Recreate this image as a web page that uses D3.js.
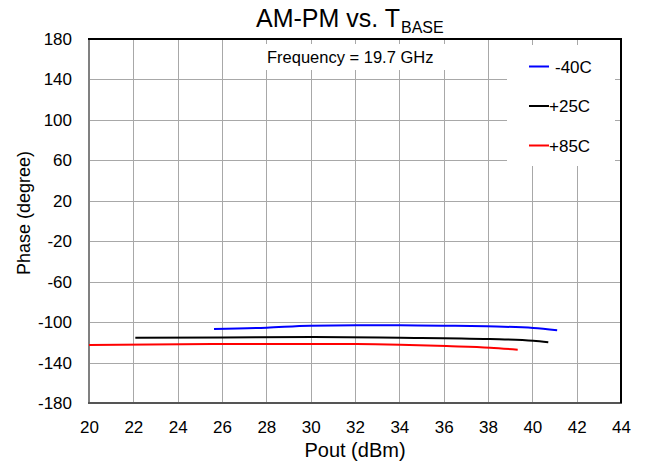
<!DOCTYPE html>
<html>
<head>
<meta charset="utf-8">
<script src="https://cdn.jsdelivr.net/npm/d3@7"></script>
<style>
  html, body { margin: 0; padding: 0; background: #fff; }
  svg { display: block; font-family: "Liberation Sans", Arial, sans-serif; }
</style>
</head>
<body>
<svg id="chart" width="647" height="465"></svg>
<script>
// ---- data ----
const xTicks = [20, 22, 24, 26, 28, 30, 32, 34, 36, 38, 40, 42, 44];
const yTicks = [-180, -140, -100, -60, -20, 20, 60, 100, 140, 180];

const seriesNames = ["-40C", "+25C", "+85C"];
const seriesColors = ["#0000ff", "#000000", "#ff0000"];

const poutM40 = [25.64, 28.01, 29.97, 32.07, 34.03, 35.98, 37.94, 40.04, 41.12];
const phaseM40 = [-106.8, -105.5, -103.5, -103.2, -103.2, -103.5, -104.2, -105.8, -108.1];

const poutP25 = [22.09, 26.06, 30.12, 34.03, 38.09, 40.04, 40.72];
const phaseP25 = [-115.4, -115.1, -114.7, -115.4, -116.7, -118.4, -120.0];

const poutP85 = [20.0, 26.06, 32.07, 34.03, 36.13, 38.09, 39.34];
const phaseP85 = [-122.7, -121.7, -121.7, -122.3, -123.7, -125.3, -127.3];

const series = [
  { name: seriesNames[0], color: seriesColors[0], x: poutM40, y: phaseM40 },
  { name: seriesNames[1], color: seriesColors[1], x: poutP25, y: phaseP25 },
  { name: seriesNames[2], color: seriesColors[2], x: poutP85, y: phaseP85 }
];

// ---- layout ----
const svg = d3.select("#chart");
const L = 89, R = 621, T = 39, B = 403;
const x = d3.scaleLinear().domain([20, 44]).range([L, R]);
const y = d3.scaleLinear().domain([-180, 180]).range([B, T]);

// gridlines
const grid = svg.append("g");
grid.selectAll("line.vx").data(xTicks).join("line")
  .attr("x1", d => Math.round(x(d)) + 0.5).attr("x2", d => Math.round(x(d)) + 0.5)
  .attr("y1", T).attr("y2", B)
  .attr("stroke", "#a8a8a8").attr("stroke-width", 1);
grid.selectAll("line.hy").data(yTicks).join("line")
  .attr("y1", d => Math.round(y(d)) + 0.5).attr("y2", d => Math.round(y(d)) + 0.5)
  .attr("x1", L).attr("x2", R)
  .attr("stroke", "#a8a8a8").attr("stroke-width", 1);

// white boxes behind annotation and legend
svg.append("rect").attr("x", 262).attr("y", 44).attr("width", 190).attr("height", 26).attr("fill", "#fff");
svg.append("rect").attr("x", 507).attr("y", 45).attr("width", 108).attr("height", 121).attr("fill", "#fff");

// frame
svg.append("line").attr("x1", L).attr("x2", L).attr("y1", T).attr("y2", B + 1)
  .attr("stroke", "#808080").attr("stroke-width", 2);
svg.append("line").attr("x1", L - 1).attr("x2", R + 1).attr("y1", B).attr("y2", B)
  .attr("stroke", "#555").attr("stroke-width", 2);
svg.append("line").attr("x1", L - 1).attr("x2", R + 1).attr("y1", T).attr("y2", T)
  .attr("stroke", "#000").attr("stroke-width", 2);
svg.append("line").attr("x1", R).attr("x2", R).attr("y1", T).attr("y2", B)
  .attr("stroke", "#000").attr("stroke-width", 2);

// axes labels via d3 axes (no domain / tick lines)
const fmt = d => String(d);
const xAxis = svg.append("g").attr("transform", `translate(0,${B})`)
  .call(d3.axisBottom(x).tickValues(xTicks).tickSize(0).tickPadding(18).tickFormat(fmt));
xAxis.select(".domain").remove();
xAxis.selectAll("text").attr("font-size", 17).attr("font-family", "Liberation Sans, Arial, sans-serif").attr("fill", "#000");

const yAxis = svg.append("g").attr("transform", `translate(${L},0)`)
  .call(d3.axisLeft(y).tickValues(yTicks).tickSize(0).tickPadding(17).tickFormat(fmt));
yAxis.select(".domain").remove();
yAxis.selectAll("text").attr("font-size", 17).attr("font-family", "Liberation Sans, Arial, sans-serif").attr("fill", "#000");

// data lines
const line = d3.line().curve(d3.curveMonotoneX).x(d => x(d[0])).y(d => y(d[1]));
svg.append("g").selectAll("path").data(series).join("path")
  .attr("d", s => line(s.x.map((v, i) => [v, s.y[i]])))
  .attr("fill", "none").attr("stroke", s => s.color).attr("stroke-width", 2);

// title
const title = svg.append("text").attr("x", 256).attr("y", 27).attr("font-size", 25).attr("fill", "#000");
title.append("tspan").text("AM-PM vs. T");
title.append("tspan").attr("font-size", 16).attr("dy", 6).attr("dx", 1).text("BASE");

// annotation
svg.append("text").attr("x", 267).attr("y", 63).attr("font-size", 16.5).attr("fill", "#000")
  .text("Frequency = 19.7 GHz");

// legend
const legY = [66.5, 106, 145.5];
const leg = svg.append("g");
series.forEach((s, i) => {
  leg.append("line").attr("x1", 529).attr("x2", 549).attr("y1", legY[i]).attr("y2", legY[i])
    .attr("stroke", s.color).attr("stroke-width", 2);
  leg.append("text").attr("x", s.name.startsWith("-") ? 555 : 549).attr("y", legY[i] + 6)
    .attr("font-size", 17).attr("fill", "#000").text(s.name);
});

// axis titles
svg.append("text").attr("x", 355).attr("y", 457).attr("text-anchor", "middle")
  .attr("font-size", 20).attr("fill", "#000").text("Pout (dBm)");
svg.append("text").attr("transform", "translate(30,213) rotate(-90)").attr("text-anchor", "middle")
  .attr("font-size", 18).attr("fill", "#000").text("Phase (degree)");
</script>
</body>
</html>
